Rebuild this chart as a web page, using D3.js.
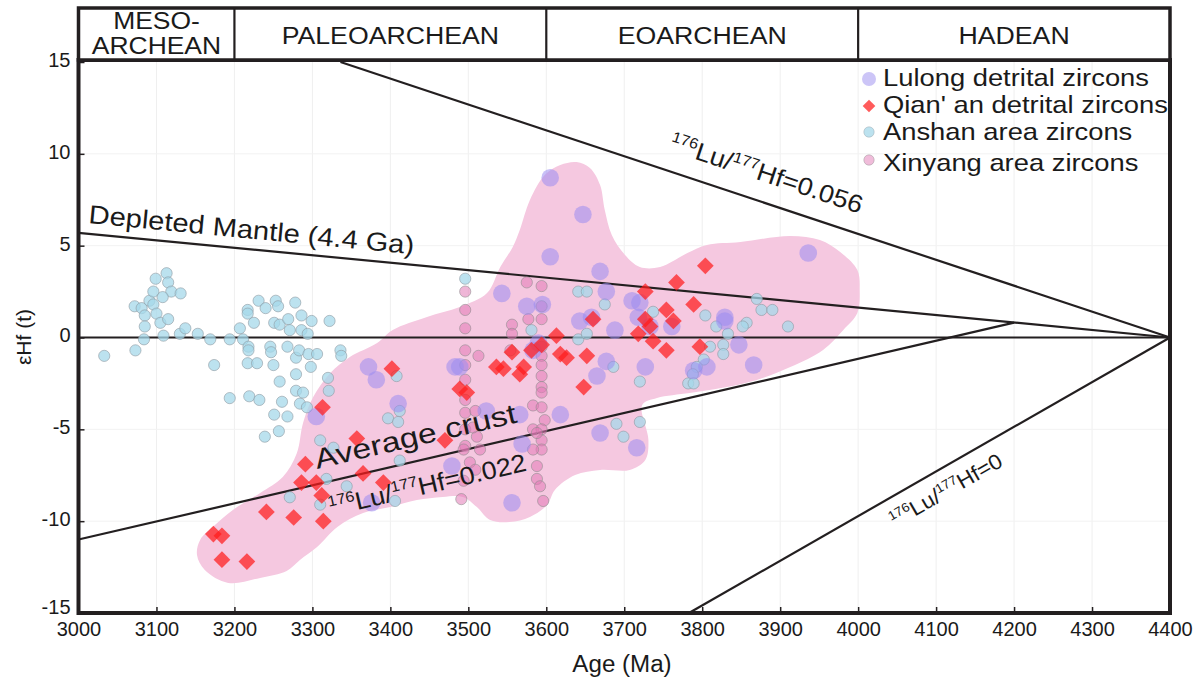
<!DOCTYPE html>
<html>
<head>
<meta charset="utf-8">
<script src="https://cdn.jsdelivr.net/npm/d3@7"></script>
<style>
  body { margin: 0; background: #fff; }
  svg { display: block; font-family: "Liberation Sans", Arial, sans-serif; }
</style>
</head>
<body>
<svg id="chart" width="1199" height="681"></svg>
<script>
// ---- Geological eras along the top band ----
const eraBounds = [3000, 3200, 3600, 4000, 4400];
const eraNames = [["MESO-", "ARCHEAN"], ["PALEOARCHEAN"], ["EOARCHEAN"], ["HADEAN"]];

// ---- Axis ticks ----
const xTicks = [3000, 3100, 3200, 3300, 3400, 3500, 3600, 3700, 3800, 3900, 4000, 4100, 4200, 4300, 4400];
const yTicks = [-15, -10, -5, 0, 5, 10, 15];

// ---- Zircon data: [age (Ma), εHf(t)] ----
const lulong = [
  [3605, 8.7], [3647, 6.7], [3605, 4.4], [3669, 3.6], [3543, 2.4], [3575, 1.7], [3595, 1.8],
  [3677, 2.5], [3658, 1.1], [3643, 0.9], [3688, 0.4], [3710, 2.0], [3720, 1.9], [3718, 1.1],
  [3733, 0.6], [3372, -1.6], [3382, -2.3], [3483, -1.6], [3489, -1.6], [3566, -4.2], [3618, -4.2],
  [3669, -5.2], [3716, -6.0], [3677, -1.3], [3665, -2.1], [3727, -1.6], [3583, -0.7], [3590, -0.3],
  [3410, -3.6], [3305, -4.3], [3479, -7.0], [3523, -4.0], [3376, -9.0], [3556, -9.0], [3569, -5.8],
  [3936, 4.6], [3829, 1.1], [3829, 0.9], [3847, -0.4], [3866, -1.5], [3806, -1.6], [3789, -1.8],
  [3761, 0.6]
];

const qianan = [
  [3313, -3.8], [3357, -5.5], [3402, -1.7], [3489, -2.8], [3498, -3.0], [3470, -5.6], [3536, -1.6],
  [3545, -1.7], [3556, -0.8], [3571, -1.6], [3566, -2.0], [3581, -0.7], [3594, -0.4], [3613, 0.1],
  [3618, -0.9], [3626, -1.1], [3652, -1.0], [3648, -2.7], [3660, 1.0], [3727, 2.5], [3727, 1.0],
  [3718, 0.2], [3737, -0.2], [3733, 0.6], [3804, 3.9], [3767, 3.0], [3789, 1.8], [3754, 1.5],
  [3763, 0.9], [3754, -0.7], [3797, -0.5], [3291, -6.9], [3286, -7.9], [3305, -7.9], [3312, -8.6],
  [3365, -7.4], [3391, -7.9], [3241, -9.5], [3276, -9.8], [3314, -10.0], [3173, -10.7], [3184, -10.8],
  [3184, -12.1], [3216, -12.2]
];

const anshan = [
  [3033, -1.0], [3073, -0.7], [3072, 1.7], [3081, 1.6], [3085, 1.2], [3085, 0.6], [3084, -0.1],
  [3091, 2.0], [3096, 2.5], [3099, 3.2], [3113, 3.5], [3115, 3.0], [3119, 2.5], [3108, 2.2],
  [3096, 1.8], [3100, 1.3], [3105, 0.8], [3115, 1.0], [3109, 0.1], [3131, 2.4], [3130, 0.2],
  [3137, 0.5], [3153, 0.2], [3169, -0.1], [3174, -1.5], [3194, -0.1], [3194, -3.3], [3207, 0.5],
  [3211, -0.1], [3217, 1.5], [3217, 1.3], [3218, -0.5], [3218, -0.7], [3217, -1.4], [3219, -3.2],
  [3231, 2.0], [3240, 1.6], [3225, 0.8], [3229, -1.4], [3232, -3.4], [3239, -5.4], [3246, -0.5],
  [3247, -0.8], [3250, -1.5], [3251, 0.8], [3253, 2.0], [3256, 1.7], [3258, 0.7], [3258, -2.4],
  [3251, -4.2], [3257, -5.1], [3261, -3.5], [3268, -0.5], [3268, -4.3], [3269, 1.0], [3271, 0.4],
  [3278, 1.9], [3279, -1.1], [3279, -2.0], [3279, -2.9], [3284, -3.6], [3283, -0.7], [3286, 1.2],
  [3286, 0.4], [3288, -3.0], [3294, 0.2], [3295, -0.9], [3298, -1.6], [3299, 0.9], [3306, -0.9],
  [3293, -3.8], [3322, 0.9], [3320, -2.2], [3321, -2.9], [3336, -0.7], [3337, -1.0], [3310, -5.6],
  [3327, -6.0], [3318, -7.7], [3344, -8.1], [3310, -9.1], [3271, -8.7], [3406, -8.9], [3408, -2.1],
  [3397, -4.4], [3410, -4.6], [3412, -4.0], [3412, -6.7], [3496, 3.2], [3581, 0.4], [3641, 2.5],
  [3652, 2.5], [3675, 1.8], [3686, -1.6], [3690, -4.7], [3699, -5.4], [3720, -2.4], [3720, -4.6],
  [3737, 1.4], [3641, -0.1], [3652, 0.2], [3870, 2.1], [3876, 1.5], [3890, 1.5], [3910, 0.6],
  [3857, 0.8], [3852, 0.6], [3818, 0.6], [3833, 0.2], [3804, 1.2], [3827, -0.4], [3827, -0.9],
  [3810, -0.5], [3802, -1.2], [3793, -1.6], [3788, -2.0], [3782, -2.5], [3789, -2.5]
];

const xinyang = [
  [3496, 2.5], [3496, 1.5], [3496, 0.5], [3496, -0.7], [3496, -1.5], [3496, -2.3], [3496, -3.4],
  [3496, -4.1], [3496, -5.0], [3496, -5.9], [3513, -1.0], [3509, -4.0], [3511, -5.4], [3556, 0.7],
  [3556, 0.2], [3554, -0.7], [3575, 3.0], [3577, 1.0], [3583, -3.7], [3583, -5.0], [3594, 2.8],
  [3594, 1.7], [3594, 1.0], [3594, -0.5], [3594, -1.0], [3594, -1.5], [3594, -2.1], [3594, -2.7],
  [3594, -3.0], [3594, -3.8], [3598, -4.5], [3594, -5.0], [3594, -5.6], [3594, -6.1], [3506, -4.9],
  [3494, -6.1], [3502, -6.8], [3509, -7.2], [3491, -8.8], [3588, -5.2], [3583, -6.1], [3588, -7.0],
  [3588, -7.7], [3592, -8.1], [3515, -6.1], [3596, -8.9], [3494, -7.8]
];

// Outline of the Xinyang-area field
const xinyangField = [
  [3280, -6.3], [3288, -4.65], [3301, -3.24], [3323, -1.93], [3348, -1.06], [3383, -0.3], [3403, 0.41],
  [3447, 1.12], [3489, 1.66], [3524, 2.42], [3541, 3.84], [3557, 4.93], [3566, 5.85], [3579, 7.49],
  [3598, 8.85], [3618, 9.39], [3639, 9.55], [3656, 9.23], [3669, 8.3], [3675, 6.94], [3684, 5.58],
  [3701, 4.49], [3720, 3.84], [3746, 3.84], [3781, 4.6], [3806, 5.04], [3849, 5.2], [3913, 5.53],
  [3951, 5.31], [3977, 4.65], [3999, 3.67], [4002, 2.59], [3999, 1.33], [3981, 0.41], [3955, -0.68],
  [3913, -1.61], [3870, -2.31], [3826, -2.74], [3784, -3.02], [3742, -3.29], [3723, -3.67], [3731, -5.58],
  [3727, -6.67], [3707, -7.21], [3669, -7.21], [3637, -7.49], [3611, -8.3], [3601, -9.12], [3579, -9.77],
  [3553, -10.05], [3528, -9.94], [3511, -9.23], [3493, -8.68], [3467, -8.68], [3434, -8.85], [3400, -9.23],
  [3365, -9.56], [3332, -10.32], [3306, -11.41], [3284, -12.11], [3267, -12.71], [3233, -13.09],
  [3192, -13.36], [3162, -12.66], [3152, -11.84], [3156, -11.02], [3175, -10.21], [3198, -9.39],
  [3233, -8.46], [3262, -7.59]
];

// Reference evolution lines
const depletedMantle = [[3000, 5.7], [4400, 0]];
const averageCrust = [[3000, -11.0], [4200, 0.81]];
const luHf056 = [[3336, 15], [4400, 0]];
const luHf0 = [[3783, -15], [4400, 0]];
const chondrite = [[3000, 0], [4400, 0]];

const legendItems = ["Lulong detrital zircons", "Qian' an detrital zircons", "Anshan area zircons", "Xinyang area zircons"];

// ---- Layout ----
const svg = d3.select("#chart");
const ink = "#231f20";
const x = d3.scaleLinear().domain([3000, 4400]).range([78.5, 1170]);
const y = d3.scaleLinear().domain([-15, 15]).range([613, 62]);
const headerTop = 8, headerBottom = 60;

// helper: text stretched horizontally around its anchor
function label(parent, px, py, str, opts) {
  const o = Object.assign({ size: 20, anchor: "start", angle: 0, sx: 1 }, opts);
  const g = parent.append("g").attr("transform", `translate(${px},${py}) rotate(${o.angle})`);
  const t = g.append("text")
    .attr("transform", `scale(${o.sx},1)`)
    .attr("text-anchor", o.anchor)
    .attr("font-size", o.size)
    .attr("fill", "#1a1a1a");
  return t.text(str);
}

// light grid
const grid = svg.append("g");
grid.selectAll(".gx").data(xTicks.slice(1, -1)).join("line")
  .attr("x1", d => x(d)).attr("x2", d => x(d))
  .attr("y1", y(15)).attr("y2", y(-15))
  .attr("stroke", "#efefef").attr("stroke-width", 1);
grid.selectAll(".gy").data(yTicks.slice(1, -1)).join("line")
  .attr("x1", x(3000)).attr("x2", x(4400))
  .attr("y1", d => y(d)).attr("y2", d => y(d))
  .attr("stroke", "#f2f2f2").attr("stroke-width", 1);

// Xinyang field
svg.append("path")
  .datum(xinyangField)
  .attr("d", d3.line().x(d => x(d[0])).y(d => y(d[1])).curve(d3.curveCatmullRomClosed.alpha(0.5)))
  .attr("fill", "#f5c8e0");

// reference lines
const lineGen = d3.line().x(d => x(d[0])).y(d => y(d[1]));
const refLines = svg.append("g");
[depletedMantle, averageCrust, luHf056, luHf0, chondrite].forEach(seg => {
  refLines.append("path").attr("d", lineGen(seg))
    .attr("fill", "none").attr("stroke", ink).attr("stroke-width", 2.2);
});

// data marks
const marks = svg.append("g");
marks.selectAll(".ans").data(anshan).join("circle")
  .attr("cx", d => x(d[0])).attr("cy", d => y(d[1])).attr("r", 5.6)
  .attr("fill", "#a6d8ea").attr("fill-opacity", 0.75)
  .attr("stroke", "#8e9aa2").attr("stroke-opacity", 0.6).attr("stroke-width", 1);
marks.selectAll(".xin").data(xinyang).join("circle")
  .attr("cx", d => x(d[0])).attr("cy", d => y(d[1])).attr("r", 5.6)
  .attr("fill", "#e27ab6").attr("fill-opacity", 0.55)
  .attr("stroke", "#8a8a8a").attr("stroke-opacity", 0.55).attr("stroke-width", 1);
marks.selectAll(".lul").data(lulong).join("circle")
  .attr("cx", d => x(d[0])).attr("cy", d => y(d[1])).attr("r", 8.8)
  .attr("fill", "#9a8cf0").attr("fill-opacity", 0.55);
const diamond = d3.symbol().type(d3.symbolSquare).size(140);
marks.selectAll(".qia").data(qianan).join("path")
  .attr("d", diamond)
  .attr("transform", d => `translate(${x(d[0])},${y(d[1])}) rotate(45)`)
  .attr("fill", "#ff1c1c").attr("fill-opacity", 0.72);

// plot frame
svg.append("rect")
  .attr("x", x(3000)).attr("y", y(15) - 2)
  .attr("width", x(4400) - x(3000)).attr("height", y(-15) - y(15) + 2)
  .attr("fill", "none").attr("stroke", ink).attr("stroke-width", 4);

// era band
const band = svg.append("g");
band.append("rect")
  .attr("x", x(3000)).attr("y", headerTop)
  .attr("width", x(4400) - x(3000)).attr("height", headerBottom - headerTop)
  .attr("fill", "#fff").attr("stroke", ink).attr("stroke-width", 3.5);
band.selectAll(".div").data(eraBounds.slice(1, -1)).join("line")
  .attr("x1", d => x(d)).attr("x2", d => x(d))
  .attr("y1", headerTop).attr("y2", headerBottom)
  .attr("stroke", ink).attr("stroke-width", 2.2);
eraNames.forEach((lines, i) => {
  const cx = (x(eraBounds[i]) + x(eraBounds[i + 1])) / 2;
  if (lines.length === 2) {
    label(band, cx, 29, lines[0], { size: 23, anchor: "middle", sx: 1.15 });
    label(band, cx, 54, lines[1], { size: 23, anchor: "middle", sx: 1.15 });
  } else {
    label(band, cx, 44, lines[0], { size: 23, anchor: "middle", sx: 1.16 });
  }
});

// axes (plain hyphen for negatives)
const plain = d => String(d);
const xAxis = d3.axisBottom(x).tickValues(xTicks).tickFormat(plain)
  .tickSizeInner(-6).tickSizeOuter(0).tickPadding(9);
const gx = svg.append("g").attr("transform", `translate(0,${y(-15)})`).call(xAxis);
gx.select(".domain").remove();
gx.selectAll("line").attr("stroke", ink).attr("stroke-width", 1.5);
gx.selectAll("text").attr("font-size", 20).attr("fill", "#1a1a1a")
  .attr("font-family", "Liberation Sans, Arial, sans-serif");

const yAxis = d3.axisLeft(y).tickValues(yTicks).tickFormat(plain)
  .tickSizeInner(-6).tickSizeOuter(0).tickPadding(8);
const gy = svg.append("g").attr("transform", `translate(${x(3000)},0)`).call(yAxis);
gy.select(".domain").remove();
gy.selectAll("line").attr("stroke", ink).attr("stroke-width", 1.5);
gy.selectAll("text").attr("font-size", 20).attr("fill", "#1a1a1a")
  .attr("dy", d => d === -15 ? "0em" : "0.22em")
  .attr("font-family", "Liberation Sans, Arial, sans-serif");

// axis titles
label(svg, 622, 672, "Age (Ma)", { size: 23, anchor: "middle", sx: 1.05 });
label(svg, 31, 337, "εHf (t)", { size: 21, anchor: "middle", angle: -90 });

// line annotations, rotated along their lines
function angleOf(seg) {
  const dx = x(seg[1][0]) - x(seg[0][0]);
  const dy = y(seg[1][1]) - y(seg[0][1]);
  return Math.atan2(dy, dx) * 180 / Math.PI;
}
const ann = svg.append("g");
label(ann, 88, 223, "Depleted Mantle (4.4 Ga)", { size: 26, angle: angleOf(depletedMantle), sx: 1.12 });
label(ann, 317, 469, "Average crust", { size: 28, angle: angleOf(averageCrust), sx: 1.2 });

function ratioLabel(px, py, value, angle, size, sx) {
  const t = label(ann, px, py, "", { size: size, angle: angle, sx: sx });
  t.append("tspan").attr("font-size", size * 0.6).attr("dy", -size * 0.38).text("176");
  t.append("tspan").attr("dy", size * 0.38).text("Lu/");
  t.append("tspan").attr("font-size", size * 0.6).attr("dy", -size * 0.38).text("177");
  t.append("tspan").attr("dy", size * 0.38).text("Hf=" + value);
}
ratioLabel(331, 516, "0.022", angleOf(averageCrust), 25, 1.08);
ratioLabel(668, 150, "0.056", angleOf(luHf056), 25, 1.08);
ratioLabel(895, 528, "0", angleOf(luHf0), 21.5, 1.06);

// legend
const legend = svg.append("g");
const lgX = 869, lgText = 883;
const lgY = [79, 106, 132, 160];
const lgBase = [86, 113, 140, 171];
legend.append("circle").attr("cx", lgX).attr("cy", lgY[0]).attr("r", 7)
  .attr("fill", "#9a8cf0").attr("fill-opacity", 0.5);
legend.append("path").attr("d", d3.symbol().type(d3.symbolSquare).size(80))
  .attr("transform", `translate(${lgX},${lgY[1]}) rotate(45)`)
  .attr("fill", "#ff1c1c").attr("fill-opacity", 0.72);
legend.append("circle").attr("cx", lgX).attr("cy", lgY[2]).attr("r", 5.2)
  .attr("fill", "#a6d8ea").attr("fill-opacity", 0.75)
  .attr("stroke", "#8e9aa2").attr("stroke-opacity", 0.4);
legend.append("circle").attr("cx", lgX).attr("cy", lgY[3]).attr("r", 5.2)
  .attr("fill", "#e27ab6").attr("fill-opacity", 0.5)
  .attr("stroke", "#8a8a8a").attr("stroke-opacity", 0.4);
legendItems.forEach((s, i) => label(legend, lgText, lgBase[i], s, { size: 24, sx: 1.14 }));
</script>
</body>
</html>
